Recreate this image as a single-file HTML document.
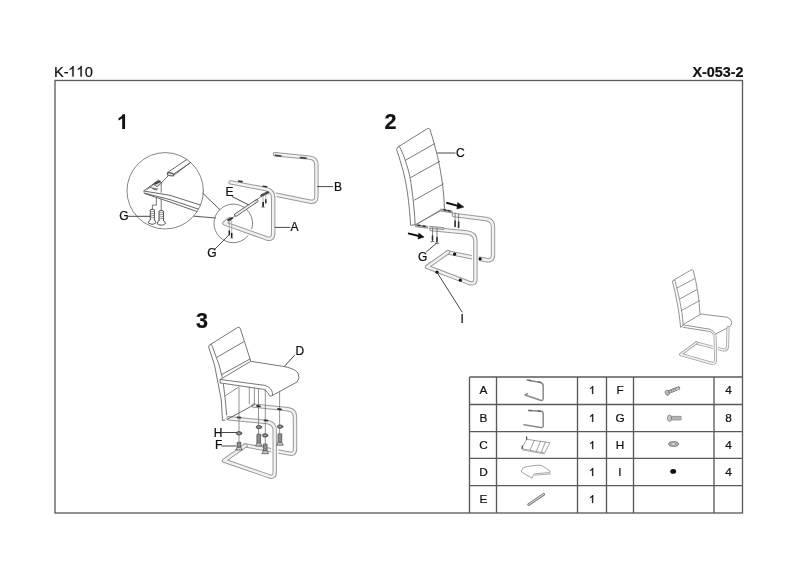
<!DOCTYPE html>
<html><head><meta charset="utf-8">
<style>
html,body{margin:0;padding:0;background:#fff;}
svg{display:block;will-change:transform;}
text{font-family:"Liberation Sans",sans-serif;fill:#111;stroke:#111;stroke-width:0.22px;}
.tw{stroke:#fff;stroke-width:7;fill:none}
.to{stroke:#9a9a9a;stroke-width:4.4;fill:none}
.ti{stroke:#f2f2f2;stroke-width:2.4;fill:none}
.stw{stroke:#fff;stroke-width:5;fill:none}
.sto{stroke:#a0a0a0;stroke-width:3;fill:none}
.sti{stroke:#f4f4f4;stroke-width:1.4;fill:none}
</style></head>
<body>
<svg width="800" height="566" viewBox="0 0 800 566">
<rect x="0" y="0" width="800" height="566" fill="#fff"/>
<!-- header -->
<g transform="translate(0,76.6) scale(1,1.035) translate(0,-76.6)"><text x="54.0" y="76.6" font-size="14.6">K-</text><text x="84.84" y="76.6" font-size="14.6">0</text></g><path transform="translate(68.15,76.6) scale(0.00716,-0.00716)" d="M583,0 L763,0 L763,1466 L646,1466 C600,1380 520,1290 410,1200 C340,1145 270,1110 221,1090 L221,917 C300,945 390,995 460,1045 C520,1085 560,1120 583,1147 Z" fill="#111" stroke="#111" stroke-width="0.25" vector-effect="non-scaling-stroke"/><path transform="translate(76.27,76.6) scale(0.00716,-0.00716)" d="M583,0 L763,0 L763,1466 L646,1466 C600,1380 520,1290 410,1200 C340,1145 270,1110 221,1090 L221,917 C300,945 390,995 460,1045 C520,1085 560,1120 583,1147 Z" fill="#111" stroke="#111" stroke-width="0.25" vector-effect="non-scaling-stroke"/>
<text x="743.6" y="77.2" font-size="14.4" font-weight="bold" text-anchor="end">X-053-2</text>
<!-- page border -->
<rect x="55" y="80.5" width="687.5" height="432.5" fill="none" stroke="#5c5c5c" stroke-width="1.35"/>
<!-- step numbers -->
<g font-size="21.5" font-weight="bold">
<path transform="translate(116.87,129.1) scale(0.01016,-0.01016)" d="M525,0 L806,0 L806,1466 L578,1466 C545,1370 480,1290 390,1220 C320,1165 240,1125 162,1100 L162,846 C300,890 430,970 525,1059 Z" fill="#111"/>
<text x="384.5" y="128.8">2</text>
<text x="196" y="328.3">3</text>
</g>
<!-- table -->
<g stroke="#5a5a5a" stroke-width="1.35" fill="none">
<line x1="469.5" y1="377" x2="742.5" y2="377"/>
<line x1="469.5" y1="404.5" x2="742.5" y2="404.5"/>
<line x1="469.5" y1="431.6" x2="742.5" y2="431.6"/>
<line x1="469.5" y1="458.4" x2="742.5" y2="458.4"/>
<line x1="469.5" y1="485.6" x2="742.5" y2="485.6"/>
<line x1="469.5" y1="377" x2="469.5" y2="513"/>
<line x1="496.5" y1="377" x2="496.5" y2="513"/>
<line x1="577.5" y1="377" x2="577.5" y2="513"/>
<line x1="606.5" y1="377" x2="606.5" y2="513"/>
<line x1="633.5" y1="377" x2="633.5" y2="513"/>
<line x1="714" y1="377" x2="714" y2="513"/>
</g>
<g font-size="11.8" text-anchor="middle">
<text x="483.5" y="394">A</text>
<text x="483.5" y="421.9">B</text>
<text x="483.5" y="449">C</text>
<text x="483.5" y="476">D</text>
<text x="483.5" y="503.1">E</text>
<path transform="translate(589.00,394) scale(0.00546,-0.00546)" d="M583,0 L763,0 L763,1466 L646,1466 C600,1380 520,1290 410,1200 C340,1145 270,1110 221,1090 L221,917 C300,945 390,995 460,1045 C520,1085 560,1120 583,1147 Z" fill="#111" stroke="#111" stroke-width="0.25" vector-effect="non-scaling-stroke"/>
<path transform="translate(589.00,421.9) scale(0.00546,-0.00546)" d="M583,0 L763,0 L763,1466 L646,1466 C600,1380 520,1290 410,1200 C340,1145 270,1110 221,1090 L221,917 C300,945 390,995 460,1045 C520,1085 560,1120 583,1147 Z" fill="#111" stroke="#111" stroke-width="0.25" vector-effect="non-scaling-stroke"/>
<path transform="translate(589.00,449) scale(0.00546,-0.00546)" d="M583,0 L763,0 L763,1466 L646,1466 C600,1380 520,1290 410,1200 C340,1145 270,1110 221,1090 L221,917 C300,945 390,995 460,1045 C520,1085 560,1120 583,1147 Z" fill="#111" stroke="#111" stroke-width="0.25" vector-effect="non-scaling-stroke"/>
<path transform="translate(589.00,476) scale(0.00546,-0.00546)" d="M583,0 L763,0 L763,1466 L646,1466 C600,1380 520,1290 410,1200 C340,1145 270,1110 221,1090 L221,917 C300,945 390,995 460,1045 C520,1085 560,1120 583,1147 Z" fill="#111" stroke="#111" stroke-width="0.25" vector-effect="non-scaling-stroke"/>
<path transform="translate(589.00,503.1) scale(0.00546,-0.00546)" d="M583,0 L763,0 L763,1466 L646,1466 C600,1380 520,1290 410,1200 C340,1145 270,1110 221,1090 L221,917 C300,945 390,995 460,1045 C520,1085 560,1120 583,1147 Z" fill="#111" stroke="#111" stroke-width="0.25" vector-effect="non-scaling-stroke"/>
<text x="620" y="394">F</text>
<text x="620" y="421.9">G</text>
<text x="620" y="449">H</text>
<text x="620" y="476">I</text>
<text x="728.5" y="394">4</text>
<text x="728.5" y="421.9">8</text>
<text x="728.5" y="449">4</text>
<text x="728.5" y="476">4</text>
</g>

<!-- DRAWING 1 -->
<defs>
<clipPath id="bigc"><circle cx="165.2" cy="190.8" r="38.2"/></clipPath>
<clipPath id="smc"><circle cx="234" cy="223.4" r="19.3"/></clipPath>
</defs>
<g fill="none" stroke="#555" stroke-width="0.9" stroke-linecap="round" stroke-linejoin="round">
<circle cx="165.2" cy="190.8" r="38.2" stroke="#777"/>
<g clip-path="url(#bigc)">
 <!-- tube -->
 <path d="M187.5,159 L167.8,172.4 M193,160.6 L173.1,175.8 M191.5,162 L172.5,174.8"/>
 <path d="M167.8,172.4 Q166.4,174.9 168.6,175.5 L173.1,176 Q174.3,174.6 172.6,173.4 Z" stroke-width="1.1" fill="#ddd"/>
 <!-- L frame -->
 <path d="M158.4,180.3 L143.5,191 L170,195.3 L205,206.5 M144,193 L170,199.6 L205,211.3 M144.9,193.6 L170,202 L205,214.4" />
 <path d="M150,187.4 L158,189" stroke-width="0.7"/>
 <!-- bracket -->
 <path d="M153.3,184 L158.4,180.3 L161.8,182.7 L157.5,186.5 Z" fill="#ccc" stroke-width="0.8"/>
 <path d="M155,183.8 L159.8,181.6" stroke="#333" stroke-width="1.6"/>
 <path d="M152.8,188.6 L156.4,189.8" stroke="#666" stroke-width="1.4"/>
 <path d="M147,189.5 L153.5,185" stroke-width="0.7"/>
 <!-- dashed/locator lines -->
 <path d="M167.8,176.2 L161.8,182.4" stroke-width="0.8"/>
 <path d="M161.2,182.7 L161.2,192.3 M161.2,199.5 L161.2,210.5" stroke-width="0.8"/>
 <path d="M156.4,197.8 L156.4,205.1 L152.4,205.1 L152.4,209.2" stroke-width="0.8"/>
 <!-- screws -->
 <path d="M150.3,219.7 L150.3,209.8 Q152.4,208.6 154.4,209.8 L154.4,219.7" stroke-width="1"/>
 <path d="M150.6,212 L154.2,211.4 M150.6,214 L154.2,213.4 M150.6,216 L154.2,215.4 M150.6,218 L154.2,217.4" stroke-width="0.6"/>
 <path d="M150.3,219.7 L148,222.6 Q152.4,226 156,222.6 L154.4,219.7" stroke-width="1"/>
 <path d="M159,220.4 L159,211 Q161.2,209.8 163.5,211 L163.5,220.4" stroke-width="1"/>
 <path d="M159.3,213 L163.2,212.4 M159.3,215 L163.2,214.4 M159.3,217 L163.2,216.4 M159.3,219 L163.2,218.4" stroke-width="0.6"/>
 <path d="M159,220.4 L157,223.4 Q161.3,227 165.7,223.4 L163.5,220.4" stroke-width="1"/>
</g>
<!-- G leader -->
<path d="M128,216.3 L150.2,216.3" stroke="#333"/>
<!-- connectors -->
<path d="M202.8,193.3 L219.8,209.6" stroke="#444"/>
<path d="M194,216.2 L215.5,218" stroke="#444"/>
<!-- small circle -->
<circle cx="233.3" cy="223.4" r="19.3" stroke="#777"/>
</g>

<!-- DRAWING 1 frames -->
<g fill="none" stroke-linecap="round" stroke-linejoin="round">
 <!-- frame B (behind) -->
 <path d="M275,154.3 L309.5,157.6 Q316.4,158.3 316.4,165 L316.4,196.5 Q316.4,202.8 310,201.6 L270,193.5" class="to"/>
 <path d="M275,154.3 L309.5,157.6 Q316.4,158.3 316.4,165 L316.4,196.5 Q316.4,202.8 310,201.6 L270,193.5" class="ti"/>
 <!-- frame A -->
 <path d="M230.6,182.4 L265.5,189 Q273.2,190.6 273.2,198 L273.2,233 Q273.2,240.5 266.5,238.3 L224.4,223.3 L229.8,219" class="tw"/>
 <path d="M230.6,182.4 L265.5,189 Q273.2,190.6 273.2,198 L273.2,233 Q273.2,240.5 266.5,238.3 L224.4,223.3 L229.8,219" class="to"/>
 <path d="M230.6,182.4 L265.5,189 Q273.2,190.6 273.2,198 L273.2,233 Q273.2,240.5 266.5,238.3 L224.4,223.3 L229.8,219" class="ti"/>
</g>
<g fill="none" stroke="#444" stroke-width="0.9" stroke-linecap="round" stroke-linejoin="round">
 <!-- tabs on B -->
 <path d="M275.5,155.4 L281,156 M300.5,157.6 L306,158.2" stroke="#444" stroke-width="1.7"/>
 <!-- tabs on A -->
 <path d="M238.6,181 L242,181.6 M263.2,186.2 L266.6,186.8" stroke="#333" stroke-width="1.6"/>
 <!-- rod E -->
 <path d="M235.8,215 L256.6,200.8" stroke="#666" stroke-width="3.4"/>
 <path d="M235.8,215 L256.6,200.8" stroke="#f4f4f4" stroke-width="1.7"/>
 <path d="M255.1,201 L262,195.8" stroke-width="0.7"/>
 <path d="M261.4,195.6 L268,192.4" stroke="#444" stroke-width="2.4"/>
 <path d="M228.3,220 L232.2,218.2" stroke="#333" stroke-width="2"/>
 <path d="M232.8,217.8 L235.3,215.2" stroke-width="0.7"/>
 <!-- screws -->
 <path d="M265.8,194 L265.8,203.5 M263.1,196 L263.1,207" stroke="#999" stroke-width="0.7"/>
 <path d="M265.8,199.6 L265.8,202.8" stroke="#222" stroke-width="1.4"/>
 <path d="M263.1,202.7 L263.1,206.2" stroke="#222" stroke-width="1.7"/>
 <path d="M261.8,207.2 L264.4,207.2" stroke="#888" stroke-width="0.9"/>
 <path d="M229.3,221 L229.3,231 M231.7,221 L231.7,233.5" stroke="#999" stroke-width="0.7"/>
 <path d="M229.3,231 L229.3,234.7" stroke="#222" stroke-width="1.5"/>
 <path d="M231.7,233.5 L231.7,237.2" stroke="#222" stroke-width="1.6"/>
 <path d="M230.6,238.1 L232.8,238.1" stroke="#888" stroke-width="0.9"/>
 <!-- leaders -->
 <path d="M232.2,196.6 L248.3,204.7" stroke="#333"/>
 <path d="M215.3,248.8 L229.3,234.6" stroke="#333"/>
 <path d="M317.6,186.6 L332.7,186.6" stroke="#333"/>
 <path d="M275.2,227.4 L290,227.4" stroke="#333"/>
</g>
<g font-size="12" fill="#222">
 <text x="225.5" y="196">E</text>
 <text x="334" y="190.5">B</text>
 <text x="290.6" y="230.6">A</text>
 <text x="119.3" y="219.5">G</text>
 <text x="207.2" y="257">G</text>
</g>

<!-- DRAWING 2 -->
<g fill="none" stroke="#555" stroke-width="0.9" stroke-linecap="round" stroke-linejoin="round">
 <!-- chair back C -->
 <path d="M399.1,146.3 L427.6,128.5 Q429.2,127.8 429.9,129.5 C437.5,152 443.5,180 444.5,208.6 L415.2,224.8 L410.6,225.3 C409.5,205 406.5,180 401.4,165 C399.5,158 397.8,153 396.6,149.8 Q396.3,147.4 399.1,146.3 Z" fill="#fff" stroke="#6a6a6a"/>
 <path d="M399.6,147 C403,153 406,162 408.8,172 C412,186 414,205 415.2,224.8" stroke="#6a6a6a"/>
 <path d="M405.2,160.4 L434.6,143.6 M410.6,177.6 L439.7,161.3 M414.6,200 L443.4,183.9" stroke="#6a6a6a"/>
</g>
<g fill="none" stroke-linecap="round" stroke-linejoin="round">
 <!-- rear U of frame I -->
 <path d="M453.9,215 L486,219 Q493,220 493,227 L493,255 Q493,261.5 486,260 L447.5,252.4" class="to"/>
 <path d="M453.9,215 L486,219 Q493,220 493,227 L493,255 Q493,261.5 486,260 L447.5,252.4" class="ti"/>
 <!-- front U -->
 <path d="M431.3,229 L467,232.5 Q475.4,233.5 475.4,241 L475.4,279 Q475.4,285 469,282.8 L440,272" class="tw"/>
 <path d="M431.3,229 L467,232.5 Q475.4,233.5 475.4,241 L475.4,279 Q475.4,285 469,282.8 L427,266.9 L448,252.2" class="to"/>
 <path d="M431.3,229 L467,232.5 Q475.4,233.5 475.4,241 L475.4,279 Q475.4,285 469,282.8 L427,266.9 L448,252.2" class="ti"/>
</g>
<g fill="none" stroke="#555" stroke-width="0.9" stroke-linecap="round" stroke-linejoin="round">
 <!-- seat plate -->
 <path d="M415.3,225.2 L440.5,209.8" stroke="#777" stroke-width="0.8"/>
 <path d="M441,209 L452.4,211.3 L452.4,213 L441,211" fill="#bbb" stroke="#777" stroke-width="0.8"/>
 <path d="M415.3,224.8 L427.7,226.4 L427.7,228.2 L415.3,226.6" fill="#bbb" stroke="#777" stroke-width="0.8"/>
 <path d="M429.5,226.3 L443.6,227.6 L443.6,229.6 L429.5,228.3" fill="#ccc" stroke="#888" stroke-width="0.8"/>
 <path d="M444,209.8 L446,210.2 M448,210.6 L450,211 M418,225.2 L420,225.6 M423,226 L425,226.3" stroke="#333" stroke-width="1.5"/>
 <!-- screws rear -->
 <path d="M455.1,213 L455.1,226.5 M458.6,214 L458.6,227.4" stroke-width="0.7"/>
 <path d="M455.1,221 L455.1,226.5 M458.6,222 L458.6,227.4" stroke="#333" stroke-width="1.6"/>
 <!-- screws front -->
 <path d="M432.5,228 L432.5,241.6 M437,228 L437,243.3" stroke-width="0.7"/>
 <path d="M432.5,236 L432.5,240 M437,237.5 L437,241.5" stroke="#333" stroke-width="1.6"/>
 <path d="M430.8,241.6 L434.2,241.6 M435.3,243.3 L438.7,243.3" stroke-width="0.8"/>
 <!-- dots -->
 <circle cx="454.6" cy="254.2" r="1.6" fill="#111" stroke="none"/>
 <circle cx="480.1" cy="258.8" r="1.6" fill="#111" stroke="none"/>
 <circle cx="437" cy="272.2" r="1.6" fill="#111" stroke="none"/>
 <circle cx="460.3" cy="280.2" r="1.6" fill="#111" stroke="none"/>
 <!-- leaders -->
 <path d="M437.6,153 L455.1,153" stroke="#333"/>
 <path d="M426.5,251.8 L436.3,243.3" stroke="#333"/>
 <path d="M437,272.4 L462.1,312" stroke="#333"/>
</g>
<!-- arrows -->
<g fill="#111" stroke="#111">
 <path d="M446.3,202.7 L459,206.1" stroke-width="2"/>
 <path d="M463.9,207.1 L457.7,202.5 L456.9,209 Z" stroke-width="0.5"/>
 <path d="M408,233.4 L420,236.2" stroke-width="2"/>
 <path d="M424.1,237.1 L418.8,233.1 L418,239.1 Z" stroke-width="0.5"/>
</g>
<g font-size="12" fill="#222">
 <text x="456" y="157">C</text>
 <text x="418" y="260.8">G</text>
 <text x="460.5" y="322.5">I</text>
</g>

<!-- DRAWING 3 -->
<g fill="none" stroke="#555" stroke-width="0.9" stroke-linecap="round" stroke-linejoin="round">
 <!-- back -->
 <path d="M211,344.1 L237.8,327.4 Q239.6,326.6 240.3,328.6 L250.6,360.8" stroke="#666"/>
 <path d="M211,344.1 Q208.2,345 208.6,347 L214.5,365 L221.3,400 L222.5,420.5 L227,419.5 L225.3,400 L223.4,384.2" stroke="#666"/>
 <path d="M211.7,344.8 L219.1,365 L222.2,377.4" stroke="#666"/>
 <path d="M217.2,357.1 L243.8,341.7 M222.2,374.3 L250,359" stroke="#666"/>
 <!-- seat -->
 <path d="M220.3,379.5 L250.6,361.3 L282.5,366.3 Q294,368 298,373 Q300.5,378.5 297,382 L272.7,395.3 C272.5,391 271,387.5 265.2,385.4 L220.3,379.5 Z" fill="#fff" stroke="#666"/>
 <path d="M220.3,382.9 L263.8,389.4 C267,391 268.5,394 269.6,395.8 Q271,396.6 272.7,395.3 M220.3,379.5 Q219.5,381.2 220.3,382.9" stroke="#666"/>
 <path d="M225.3,395.9 L239.2,386.6" stroke="#777" stroke-width="0.8"/>
</g>
<g fill="none" stroke-linecap="round" stroke-linejoin="round">
 <!-- rear U -->
 <path d="M253.5,405.6 L288,409.2 Q295,410 295,417 L295,449 Q295,455.2 288.5,453.4 L245,445.3" class="to"/>
 <path d="M253.5,405.6 L288,409.2 Q295,410 295,417 L295,449 Q295,455.2 288.5,453.4 L245,445.3" class="ti"/>
 <!-- front U -->
 <path d="M228.5,418.3 L267,422 Q274.7,423 274.7,430.5 L274.7,472 Q274.7,478.5 268.5,476 L240,466" class="tw"/>
 <path d="M228.5,418.3 L267,422 Q274.7,423 274.7,430.5 L274.7,472 Q274.7,478.5 268.5,476 L224,460.7 L245.4,445.5" class="to"/>
 <path d="M228.5,418.3 L267,422 Q274.7,423 274.7,430.5 L274.7,472 Q274.7,478.5 268.5,476 L224,460.7 L245.4,445.5" class="ti"/>
</g>
<g fill="none" stroke="#555" stroke-width="0.9" stroke-linecap="round" stroke-linejoin="round">
 <path d="M227.8,419 L254,404.8"/>
 <!-- dashed vertical locator lines -->
 <path d="M239,388 L239,443 M258.5,389 L258.5,435.5 M265.3,389 L265.3,445 M279.6,392 L279.6,434.8 M249.3,387 L249.3,404 M254.4,388 L254.4,405" stroke="#666" stroke-width="0.7"/>
 <!-- tabs -->
 <path d="M237.5,417.3 L240.5,417.6 M257,406 L260,406.3 M278,409 L281,409.4 M264.5,420.3 L267.5,420.6" stroke="#333" stroke-width="1.8"/>
 <!-- washers -->
 <ellipse cx="239" cy="433.3" rx="2.8" ry="1.7" fill="#777" stroke="#444" stroke-width="0.8"/><ellipse cx="239" cy="433.3" rx="0.9" ry="0.5" fill="#bbb" stroke="none"/>
 <ellipse cx="258.9" cy="427.1" rx="2.8" ry="1.7" fill="#777" stroke="#444" stroke-width="0.8"/><ellipse cx="258.9" cy="427.1" rx="0.9" ry="0.5" fill="#bbb" stroke="none"/>
 <ellipse cx="265.1" cy="435.4" rx="2.8" ry="1.7" fill="#777" stroke="#444" stroke-width="0.8"/><ellipse cx="265.1" cy="435.4" rx="0.9" ry="0.5" fill="#bbb" stroke="none"/>
 <ellipse cx="280.1" cy="426.6" rx="2.8" ry="1.7" fill="#777" stroke="#444" stroke-width="0.8"/><ellipse cx="280.1" cy="426.6" rx="0.9" ry="0.5" fill="#bbb" stroke="none"/>
 <!-- screws -->
 <path d="M237.2,447.6 L237.2,442.2 L240.8,442.2 L240.8,447.6 Z" fill="#b0b0b0" stroke="#555" stroke-width="0.8"/>
 <path d="M237.2,444.1 L240.8,443.1 M237.2,445.7 L240.8,444.7 M237.2,447.3 L240.8,446.3" stroke="#555" stroke-width="0.6"/>
 <path d="M237.2,447.6 L235.6,450.0 L242.4,450.0 L240.8,447.6 Z" fill="#ccc" stroke="#555" stroke-width="0.8"/>
 <path d="M257.0,443.3 L257.0,434.1 L260.6,434.1 L260.6,443.3 Z" fill="#b0b0b0" stroke="#555" stroke-width="0.8"/>
 <path d="M257.0,436.0 L260.6,435.0 M257.0,437.6 L260.6,436.6 M257.0,439.2 L260.6,438.2 M257.0,440.8 L260.6,439.8 M257.0,442.4 L260.6,441.4" stroke="#555" stroke-width="0.6"/>
 <path d="M257.0,443.3 L255.4,445.90000000000003 L262.2,445.90000000000003 L260.6,443.3 Z" fill="#ccc" stroke="#555" stroke-width="0.8"/>
 <path d="M263.4,451.1 L263.4,444 L267.0,444 L267.0,451.1 Z" fill="#b0b0b0" stroke="#555" stroke-width="0.8"/>
 <path d="M263.4,445.9 L267.0,444.9 M263.4,447.5 L267.0,446.5 M263.4,449.1 L267.0,448.1 M263.4,450.7 L267.0,449.7" stroke="#555" stroke-width="0.6"/>
 <path d="M263.4,451.1 L261.8,453.70000000000005 L268.59999999999997,453.70000000000005 L267.0,451.1 Z" fill="#ccc" stroke="#555" stroke-width="0.8"/>
 <path d="M278.09999999999997,442.6 L278.09999999999997,433.8 L281.7,433.8 L281.7,442.6 Z" fill="#b0b0b0" stroke="#555" stroke-width="0.8"/>
 <path d="M278.09999999999997,435.7 L281.7,434.7 M278.09999999999997,437.3 L281.7,436.3 M278.09999999999997,438.9 L281.7,437.9 M278.09999999999997,440.5 L281.7,439.5 M278.09999999999997,442.1 L281.7,441.1" stroke="#555" stroke-width="0.6"/>
 <path d="M278.09999999999997,442.6 L276.5,445.20000000000005 L283.29999999999995,445.20000000000005 L281.7,442.6 Z" fill="#ccc" stroke="#555" stroke-width="0.8"/>
 <!-- leaders -->
 <path d="M221.8,432.5 L236,432.5 M221.8,446 L236,446" stroke="#333"/>
 <path d="M294.5,355.3 L284.8,366" stroke="#333"/>
</g>
<g font-size="12" fill="#222">
 <text x="295.5" y="354.8">D</text>
 <text x="213.8" y="436.5">H</text>
 <text x="215" y="448.5">F</text>
</g>

<!-- SMALL CHAIR -->
<g fill="none" stroke="#808080" stroke-width="0.85" stroke-linecap="round" stroke-linejoin="round">
 <path d="M674.2,279.9 L691,270 Q692.8,269.2 693.4,271 C697,285 699.5,300 700,314.4"/>
 <path d="M674.2,279.9 Q672,280.6 672.5,282.2 C676,295 679,310 680.6,327.4 L683.2,325 C682,308 678,292 674.8,280.5"/>
 <path d="M677,288 L694.3,278.8 M680,298.9 L696.6,289.7 M681.7,310.4 L699.5,300.6"/>
 <!-- seat -->
 <path d="M683,324.6 L701,314 L727,317.2 Q731,318.5 731.7,322 Q732,325.5 729,327 L715.3,334.2 Q713.2,330.5 710.5,329.4 Z" fill="#fff"/>
 <path d="M683,327.3 L710,331.5 Q713,332.5 713.8,335.5"/>
</g>
<g fill="none" stroke-linecap="round" stroke-linejoin="round">
 <path d="M728,327.6 L727.6,346 Q727.4,351 722.5,349.8 L696.2,343" class="sto"/>
 <path d="M728,327.6 L727.6,346 Q727.4,351 722.5,349.8 L696.2,343" class="sti"/>
 <path d="M715,336 L715.6,359.5 Q715.8,364.5 710.5,363 L690,357" class="stw"/>
 <path d="M715,335 L715.6,359.5 Q715.8,364.5 710.5,363 L680.5,354.5 L696.4,342.8" class="sto"/>
 <path d="M715,335 L715.6,359.5 Q715.8,364.5 710.5,363 L680.5,354.5 L696.4,342.8" class="sti"/>
</g>
<!-- TABLE ICONS -->
<g fill="none" stroke-linecap="round" stroke-linejoin="round">
 <!-- A -->
 <path d="M527,380 L540.5,382.6 Q543.2,383.2 543.2,386 L543.2,398 Q543.2,401 540.5,400.3 L525,395 L527.5,393.6" stroke="#8a8a8a" stroke-width="1.5"/>
 <path d="M529,380.2 L531,380.6 M538.5,382 L540.5,382.4" stroke="#666" stroke-width="1.4"/>
 <!-- B -->
 <path d="M528.5,410.4 L541,411.2 Q543.2,411.5 543.2,414 L543.2,425.5 Q543.2,428 540.5,427.5 L524,424.8" stroke="#8a8a8a" stroke-width="1.5"/>
 <path d="M529,410.4 L531.5,410.6 M538,411 L540.5,411.2" stroke="#666" stroke-width="1.4"/>
 <!-- E -->
 <path d="M528.6,504.6 L543.8,494.3" stroke="#777" stroke-width="2.6"/>
 <path d="M528.6,504.6 L543.8,494.3" stroke="#eee" stroke-width="0.9"/>
</g>
<g fill="none" stroke="#888" stroke-width="0.8" stroke-linecap="round" stroke-linejoin="round">
 <!-- C -->
 <path d="M527,439.3 L550,442.8 L544.5,453 L522,448.8 Z" stroke="#8a8a8a"/>
 <path d="M534.5,440.4 L530,450 M540.5,441.3 L536.5,451 M545.3,442 L541.5,452" stroke="#8a8a8a"/>
 <path d="M526.6,439.3 L526.6,436.8 M522.3,448.3 L522.3,445.8" stroke="#555" stroke-width="1.3"/>
 <path d="M522,449.8 L544.5,454" stroke="#aaa" stroke-width="1"/>
 <!-- D -->
 <path d="M521.5,470.5 Q522,467.5 526,466.8 L536,465.3 L541,465.3 Q546,468 549.8,470.8 Q550.8,472.2 549.5,472.6 L534.5,473.8 Q532.8,475.5 532,478.2 L521.8,472.2 Z" fill="#fff" stroke="#999" stroke-width="0.9"/>
 <path d="M534.2,475.2 L550,474 M549.8,472.5 L550,474" stroke="#aaa" stroke-width="0.9"/>
</g>
<g stroke-linecap="round">
 <!-- F screw -->
 <path d="M668.5,392.2 L678.4,388.2" stroke="#777" stroke-width="3.6"/>
 <path d="M668.5,392.2 L678.4,388.2" stroke="#c4c4c4" stroke-width="2"/>
 <path d="M671,390 L672,392.4 M673,389.2 L674,391.6 M675,388.4 L676,390.8" stroke="#777" stroke-width="0.7"/>
 <ellipse cx="667.3" cy="392.8" rx="2" ry="2.6" transform="rotate(-22 667.3 392.8)" fill="#bbb" stroke="#777" stroke-width="0.8"/>
 <!-- G bolt -->
 <rect x="670.5" y="416.3" width="10.6" height="3.6" fill="#c4c4c4" stroke="#888" stroke-width="0.8"/>
 <path d="M673,416.3 L673,419.9 M675,416.3 L675,419.9 M677,416.3 L677,419.9 M679,416.3 L679,419.9" stroke="#999" stroke-width="0.6"/>
 <ellipse cx="669.5" cy="418.2" rx="2" ry="3.2" fill="#ccc" stroke="#777" stroke-width="0.8"/>
 <!-- H washer -->
 <ellipse cx="673.6" cy="444" rx="5" ry="2.5" fill="#aaa" stroke="#777" stroke-width="0.8"/>
 <ellipse cx="673.6" cy="444" rx="2" ry="1" fill="#fff" stroke="#888" stroke-width="0.5"/>
 <!-- I blob -->
 <ellipse cx="673.2" cy="471.4" rx="2.9" ry="2.4" fill="#111"/>
</g>
</svg>
</body></html>
